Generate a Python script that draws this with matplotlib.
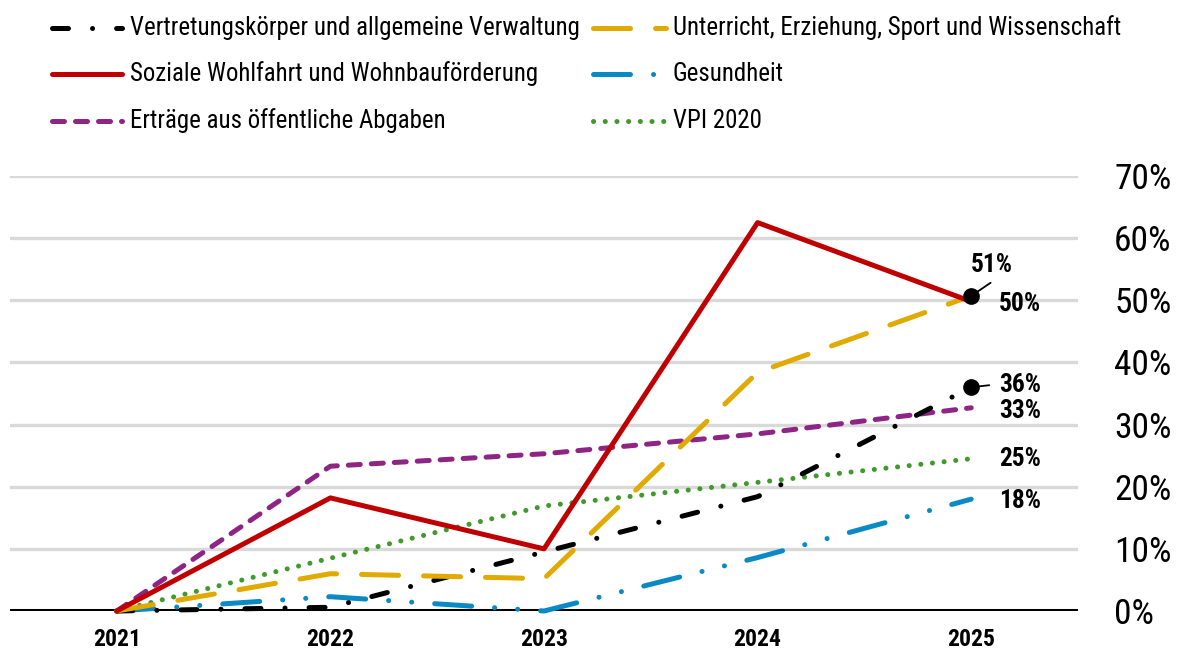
import matplotlib
matplotlib.use("Agg")
import matplotlib.pyplot as plt
from matplotlib import font_manager
from matplotlib.lines import Line2D

# ---------------- data ----------------
years = ["2021", "2022", "2023", "2024", "2025"]
vertretung = [0.0, 0.6, 9.5, 18.4, 36.0]
unterricht = [0.0, 6.0, 5.2, 38.4, 50.7]
soziale = [0.0, 18.2, 10.0, 62.5, 49.8]
gesundheit = [0.0, 2.3, 0.0, 8.6, 18.0]
ertraege = [0.0, 23.3, 25.3, 28.5, 32.7]
vpi = [0.0, 8.5, 16.9, 20.7, 24.5]

names = ["Vertretungskörper und allgemeine Verwaltung",
         "Soziale Wohlfahrt und Wohnbauförderung",
         "Erträge aus öffentliche Abgaben",
         "Unterricht, Erziehung, Sport und Wissenschaft",
         "Gesundheit",
         "VPI 2020"]
series = [vertretung, soziale, ertraege, unterricht, gesundheit, vpi]
yticks = [0, 10, 20, 30, 40, 50, 60, 70]
ytick_labels = ["0%", "10%", "20%", "30%", "40%", "50%", "60%", "70%"]
end_labels = ["36%", "50%", "33%", "51%", "18%", "25%"]

# ---------------- font choice ----------------
ttf = font_manager.fontManager.ttflist
avail = {f.name for f in ttf}
family = None
stretch = "normal"
for nm in ["Liberation Sans Narrow", "Arial Narrow", "Roboto Condensed",
           "Open Sans Condensed", "Noto Sans Condensed", "DejaVu Sans Condensed"]:
    if nm in avail:
        family = nm
        break
if family is None:
    for base in ["Noto Sans", "Open Sans", "DejaVu Sans", "Roboto"]:
        if any(f.name == base and str(f.stretch) in ("condensed", "semi-condensed")
               for f in ttf):
            family, stretch = base, "condensed"
            break
if family is None:
    family = "Liberation Sans"
plt.rcParams["font.family"] = [family, "DejaVu Sans"]
plt.rcParams["font.stretch"] = stretch

LW = 3.6
colors = ["#000000", "#c00000", "#8e2585", "#e0aa00", "#0a8ac4", "#3f9a2a"]
dashes = [
    (3.2, 4.8, 0.02, 4.8),                    # dash-dot
    None,                                     # solid
    (2.4, 2.2),                               # short dash
    (7.4, 5.0),                               # long dash
    (7.4, 4.6, 0.02, 4.6, 0.02, 4.6),         # long dash dot dot
    (0.02, 2.32),                             # dotted
]
label_off = [(20, 1.5), (20, -2), (20, -2.5), (0, 22), (20, -1), (20, 0)]
dot_series = [True, False, False, True, False, False]
leader_end = [(13, 1.5), None, None, (14, 9.5), None, None]
z = [5, 7, 4, 6, 3, 2]

fig = plt.figure(figsize=(11.77, 6.55), dpi=100)
W, H = 1177, 655
renderer = fig.canvas.get_renderer()


def fit_size(text, target_px, base=20, weight="normal"):
    t = fig.text(0, 0, text, fontsize=base, fontweight=weight)
    w = t.get_window_extent(renderer).width
    t.remove()
    return base * target_px / w


fs_leg = min(18.5, fit_size(names[0], 448))
fs_ytick = min(25.5, fit_size("70%", 59))
fs_lab = min(19, fit_size("36%", 42, weight="bold"))
fs_xtick = min(19.5, fit_size("2025", 48, weight="bold"))

ax = fig.add_axes([10 / W, (H - 611) / H, (1078 - 10) / W, (611 - 176) / H])

x = list(range(len(years)))
for i, (nm, s) in enumerate(zip(names, series)):
    kw = dict(color=colors[i], lw=LW, solid_capstyle="round",
              dash_capstyle="round", clip_on=False, zorder=z[i])
    if dashes[i] is None:
        ax.plot(x, s, linestyle="-", **kw)
    else:
        ax.plot(x, s, linestyle=(0, dashes[i]), **kw)

for i, s in enumerate(series):
    xe, ye = x[-1], s[-1]
    if dot_series[i]:
        ax.plot([xe], [ye], "o", color="black", ms=11, zorder=10, clip_on=False)
    if leader_end[i] is not None:
        ax.annotate("", xy=(xe, ye), xytext=leader_end[i], textcoords="offset points",
                    arrowprops=dict(arrowstyle="-", lw=1.3, color="black",
                                    shrinkA=0, shrinkB=0), zorder=9)
    ax.annotate(end_labels[i], xy=(xe, ye), xytext=label_off[i],
                textcoords="offset points", ha="left", va="center",
                fontsize=fs_lab, fontweight="bold", color="black", zorder=11)

ax.set_xlim(-0.5, 4.5)
ax.set_ylim(0, 70)
ax.set_xticks(x)
ax.set_xticklabels(years, fontsize=fs_xtick, fontweight="bold")
ax.set_yticks(yticks)
ax.set_yticklabels(ytick_labels, fontsize=fs_ytick)
ax.yaxis.tick_right()
ax.tick_params(axis="y", length=0, pad=26)
ax.tick_params(axis="x", length=0, pad=12)
for sp in ax.spines.values():
    sp.set_visible(False)
ax.grid(axis="y", color="#d9d9d9", lw=2.4, zorder=0)
ax.set_axisbelow(True)
ax.axhline(0, color="black", lw=2.9, zorder=1.5)

# ---------------- legend (manual) ----------------
row_y = [28, 74, 121]
col_handle = [(52, 122), (593, 666)]
col_text = [130, 673]
for i, nm in enumerate(names):
    c, r = divmod(i, 3)
    y = 1 - row_y[r] / H
    x0, x1 = col_handle[c]
    ls = "-" if dashes[i] is None else (0, dashes[i])
    fig.add_artist(Line2D([x0 / W, x1 / W], [y, y], transform=fig.transFigure,
                          color=colors[i], lw=LW, linestyle=ls,
                          solid_capstyle="round", dash_capstyle="round"))
    fig.text(col_text[c] / W, y, nm, fontsize=fs_leg, va="center", ha="left")

fig.savefig("out.png", dpi=100)
